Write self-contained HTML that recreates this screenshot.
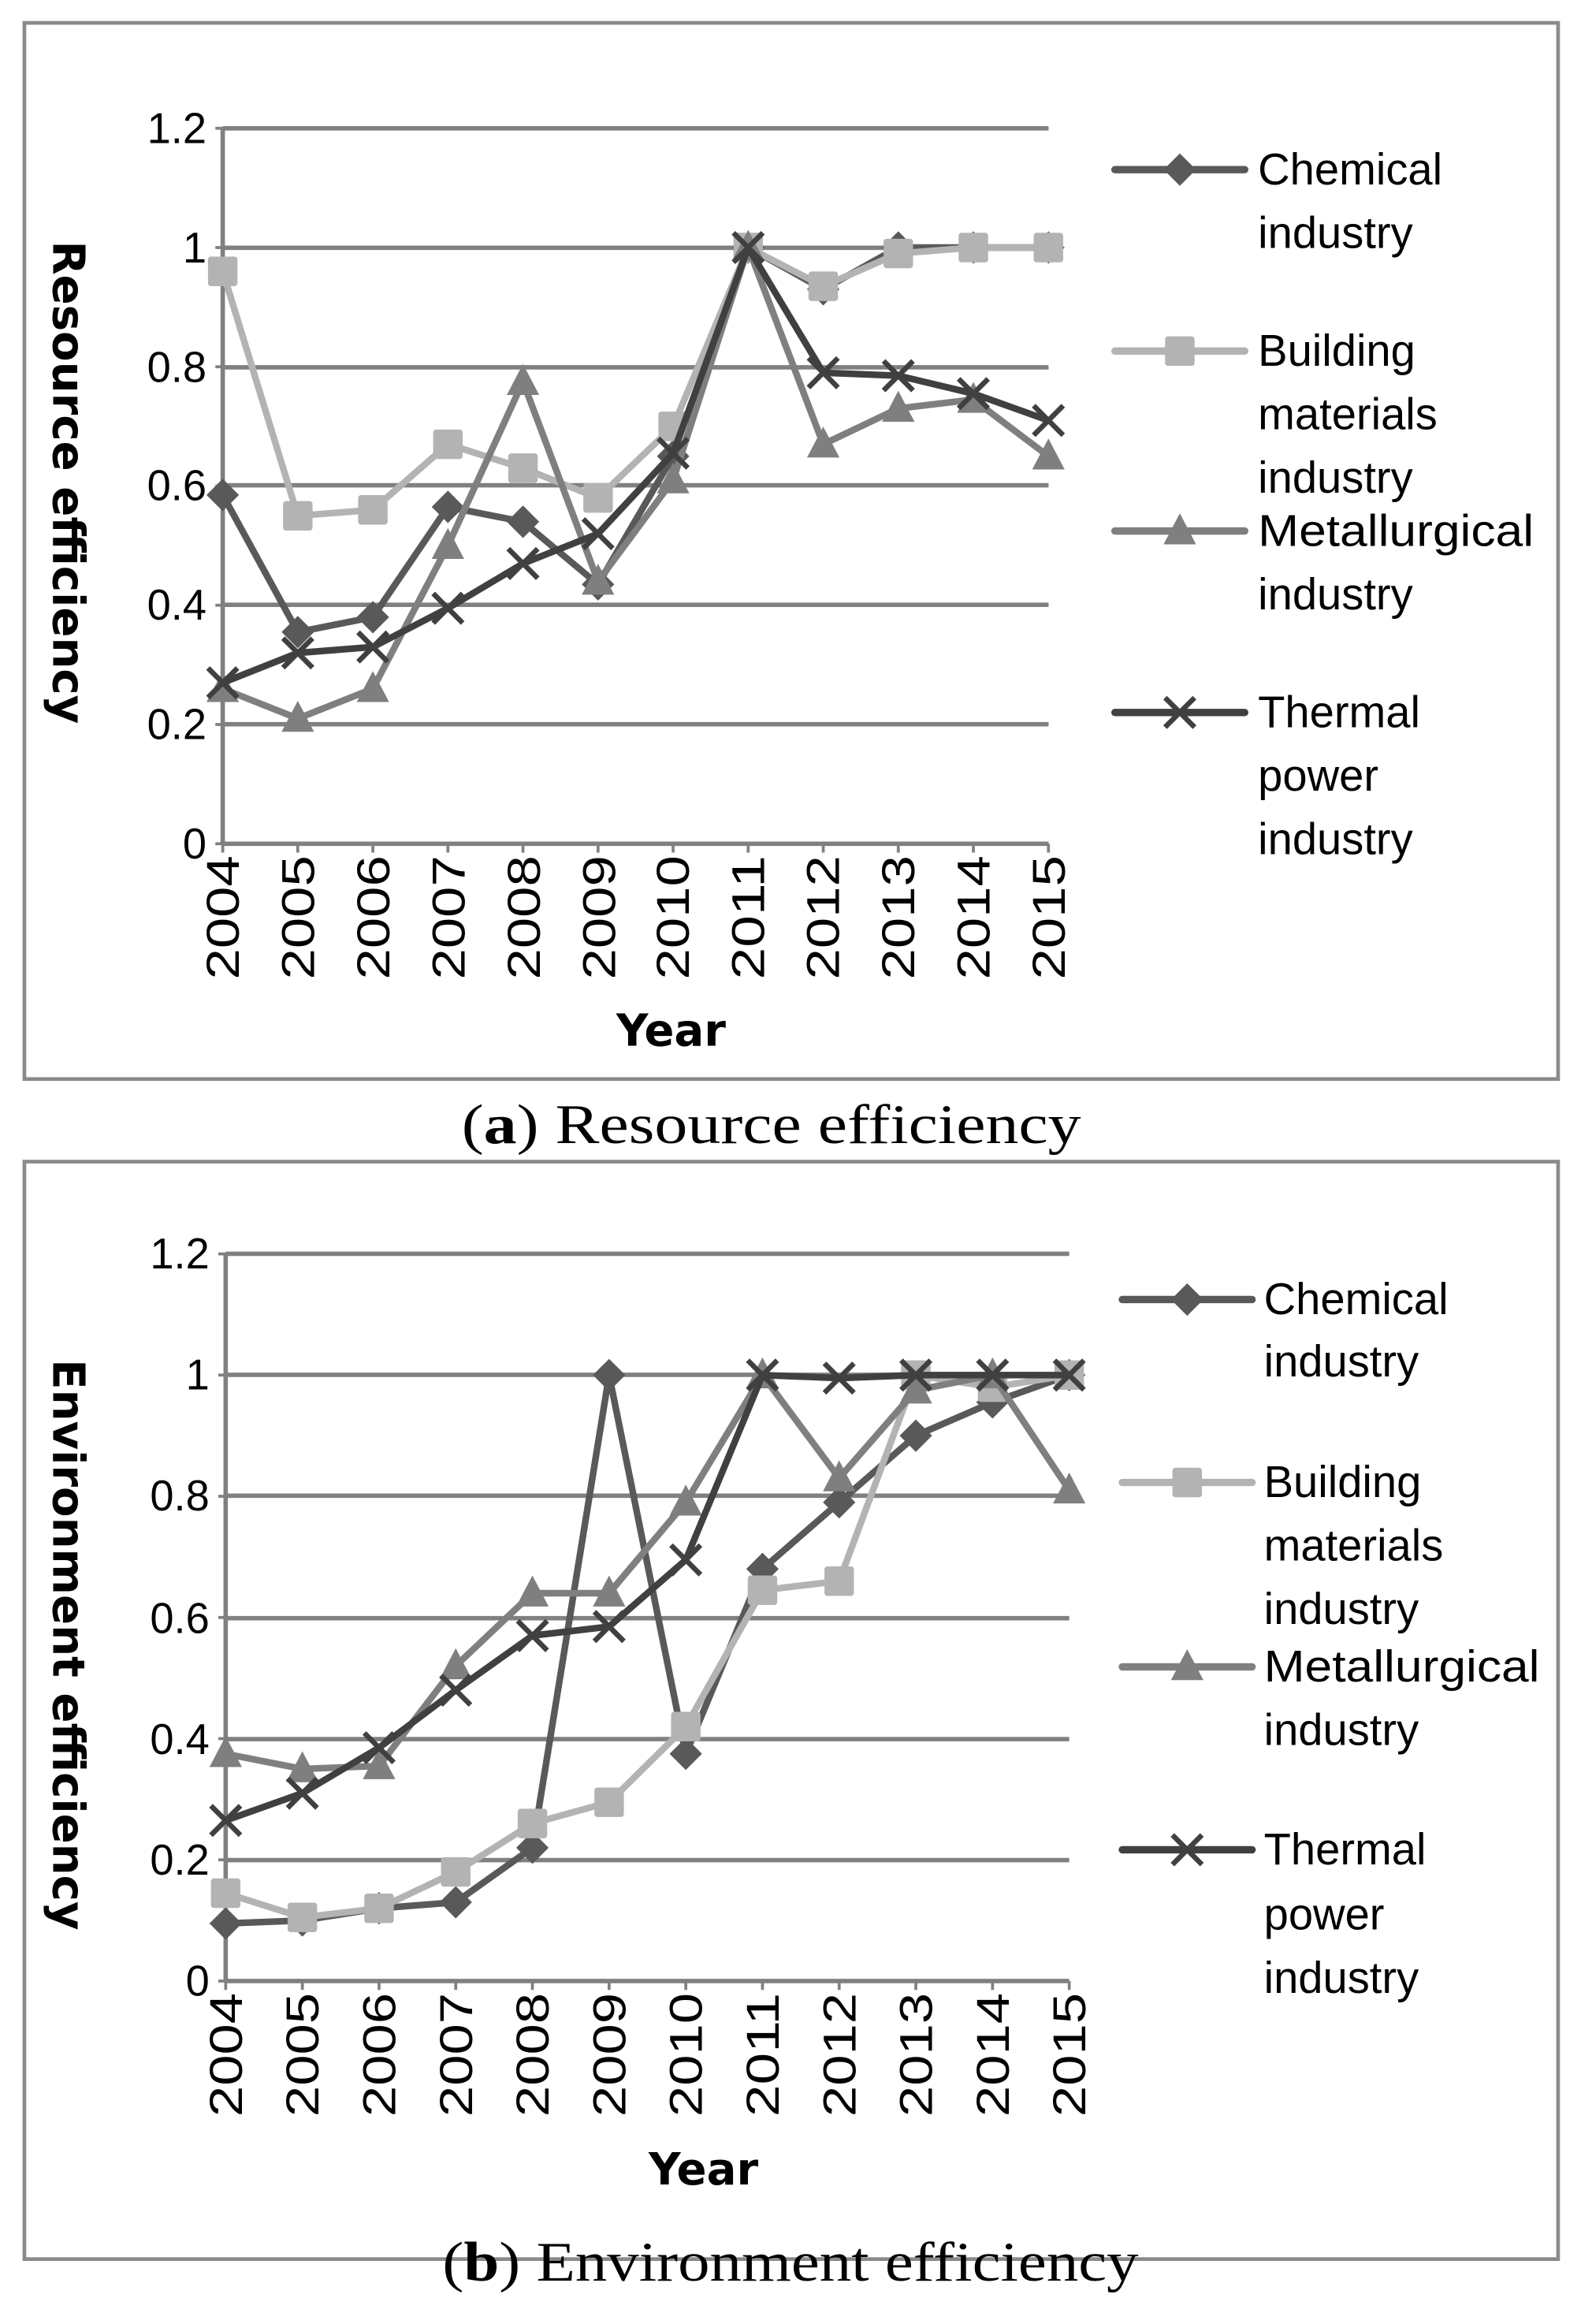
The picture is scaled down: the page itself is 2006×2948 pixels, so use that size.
<!DOCTYPE html>
<html><head><meta charset="utf-8"><style>
html,body{margin:0;padding:0;background:#fff;}
svg{display:block;}
.t{font-family:"Liberation Sans","DejaVu Sans",sans-serif;fill:#000;}
.b{font-family:"DejaVu Sans","Liberation Sans",sans-serif;fill:#000;}
.c{font-family:"Liberation Serif",serif;fill:#000;}
</style></head><body>
<svg id="s" xmlns="http://www.w3.org/2000/svg" width="2006" height="2948" viewBox="0 0 1072 1575.5">
<rect x="0" y="0" width="1072" height="1576" fill="#fff"/>
<!-- Chart A -->
<rect x="16.5" y="15.5" width="1040" height="716" fill="none" stroke="#8a8a8a" stroke-width="2.5"/>
<g stroke="#808080" stroke-width="3">
<line x1="151" y1="87" x2="711" y2="87"/><line x1="151" y1="168" x2="711" y2="168"/>
<line x1="151" y1="249" x2="711" y2="249"/><line x1="151" y1="329" x2="711" y2="329"/>
<line x1="151" y1="410" x2="711" y2="410"/><line x1="151" y1="491" x2="711" y2="491"/>
<line x1="151" y1="572" x2="711" y2="572"/><line x1="151" y1="87" x2="151" y2="572"/>
</g>
<g id="ticksA" stroke="#808080" stroke-width="2"></g>
<g class="t" font-size="29" text-anchor="end">
<text x="140" y="97">1.2</text><text x="140" y="178">1</text><text x="140" y="259">0.8</text>
<text x="140" y="339">0.6</text><text x="140" y="420">0.4</text><text x="140" y="501">0.2</text><text x="140" y="582">0</text>
</g>
<g class="t" font-size="31" text-anchor="end" lengthAdjust="spacingAndGlyphs">
<text transform="translate(162,580) rotate(-90)" textLength="84" lengthAdjust="spacingAndGlyphs">2004</text>
<text transform="translate(213,580) rotate(-90)" textLength="84" lengthAdjust="spacingAndGlyphs">2005</text>
<text transform="translate(264,580) rotate(-90)" textLength="84" lengthAdjust="spacingAndGlyphs">2006</text>
<text transform="translate(315,580) rotate(-90)" textLength="84" lengthAdjust="spacingAndGlyphs">2007</text>
<text transform="translate(366,580) rotate(-90)" textLength="84" lengthAdjust="spacingAndGlyphs">2008</text>
<text transform="translate(417,580) rotate(-90)" textLength="84" lengthAdjust="spacingAndGlyphs">2009</text>
<text transform="translate(467,580) rotate(-90)" textLength="84" lengthAdjust="spacingAndGlyphs">2010</text>
<text transform="translate(518,580) rotate(-90)" textLength="84" lengthAdjust="spacingAndGlyphs">2011</text>
<text transform="translate(569,580) rotate(-90)" textLength="84" lengthAdjust="spacingAndGlyphs">2012</text>
<text transform="translate(620,580) rotate(-90)" textLength="84" lengthAdjust="spacingAndGlyphs">2013</text>
<text transform="translate(671,580) rotate(-90)" textLength="84" lengthAdjust="spacingAndGlyphs">2014</text>
<text transform="translate(722,580) rotate(-90)" textLength="84" lengthAdjust="spacingAndGlyphs">2015</text>
</g>
<text class="b" x="455" y="709" font-size="30" font-weight="bold" text-anchor="middle">Year</text>
<text class="b" transform="translate(36,327) rotate(90)" font-size="30" font-weight="bold" text-anchor="middle">Resource efficiency</text>
<g class="t" font-size="30">
<text x="853" y="125">Chemical</text><text x="853" y="168">industry</text>
<text x="853" y="248">Building</text><text x="853" y="291">materials</text><text x="853" y="334">industry</text>
<text x="853" y="370" textLength="187" lengthAdjust="spacingAndGlyphs">Metallurgical</text><text x="853" y="413">industry</text>
<text x="853" y="493">Thermal</text><text x="853" y="536">power</text><text x="853" y="579">industry</text>
</g>
<g id="A"></g>
<text class="c" x="313" y="775" font-size="38" textLength="420" lengthAdjust="spacingAndGlyphs">(<tspan font-weight="bold">a</tspan>) Resource efficiency</text>

<!-- Chart B -->
<rect x="16.5" y="787.5" width="1040" height="744" fill="none" stroke="#8a8a8a" stroke-width="2.5"/>
<g stroke="#808080" stroke-width="3">
<line x1="153" y1="850" x2="725" y2="850"/><line x1="153" y1="932" x2="725" y2="932"/>
<line x1="153" y1="1014" x2="725" y2="1014"/><line x1="153" y1="1097" x2="725" y2="1097"/>
<line x1="153" y1="1179" x2="725" y2="1179"/><line x1="153" y1="1261" x2="725" y2="1261"/>
<line x1="153" y1="1343" x2="725" y2="1343"/><line x1="153" y1="850" x2="153" y2="1343"/>
</g>
<g id="ticksB" stroke="#808080" stroke-width="2"></g>
<g class="t" font-size="29" text-anchor="end">
<text x="142" y="860">1.2</text><text x="142" y="942">1</text><text x="142" y="1024">0.8</text>
<text x="142" y="1107">0.6</text><text x="142" y="1189">0.4</text><text x="142" y="1271">0.2</text><text x="142" y="1353">0</text>
</g>
<g class="t" font-size="31" text-anchor="end">
<text transform="translate(164,1351) rotate(-90)" textLength="84" lengthAdjust="spacingAndGlyphs">2004</text>
<text transform="translate(216,1351) rotate(-90)" textLength="84" lengthAdjust="spacingAndGlyphs">2005</text>
<text transform="translate(268,1351) rotate(-90)" textLength="84" lengthAdjust="spacingAndGlyphs">2006</text>
<text transform="translate(320,1351) rotate(-90)" textLength="84" lengthAdjust="spacingAndGlyphs">2007</text>
<text transform="translate(372,1351) rotate(-90)" textLength="84" lengthAdjust="spacingAndGlyphs">2008</text>
<text transform="translate(424,1351) rotate(-90)" textLength="84" lengthAdjust="spacingAndGlyphs">2009</text>
<text transform="translate(476,1351) rotate(-90)" textLength="84" lengthAdjust="spacingAndGlyphs">2010</text>
<text transform="translate(528,1351) rotate(-90)" textLength="84" lengthAdjust="spacingAndGlyphs">2011</text>
<text transform="translate(580,1351) rotate(-90)" textLength="84" lengthAdjust="spacingAndGlyphs">2012</text>
<text transform="translate(632,1351) rotate(-90)" textLength="84" lengthAdjust="spacingAndGlyphs">2013</text>
<text transform="translate(684,1351) rotate(-90)" textLength="84" lengthAdjust="spacingAndGlyphs">2014</text>
<text transform="translate(736,1351) rotate(-90)" textLength="84" lengthAdjust="spacingAndGlyphs">2015</text>
</g>
<text class="b" x="477" y="1481" font-size="30" font-weight="bold" text-anchor="middle">Year</text>
<text class="b" transform="translate(36,1115) rotate(90)" font-size="30" font-weight="bold" text-anchor="middle">Environment efficiency</text>
<g class="t" font-size="30">
<text x="857" y="891">Chemical</text><text x="857" y="933">industry</text>
<text x="857" y="1015">Building</text><text x="857" y="1058">materials</text><text x="857" y="1101">industry</text>
<text x="857" y="1140" textLength="187" lengthAdjust="spacingAndGlyphs">Metallurgical</text><text x="857" y="1183">industry</text>
<text x="857" y="1264">Thermal</text><text x="857" y="1308">power</text><text x="857" y="1351">industry</text>
</g>
<g id="B"></g>
<text class="c" x="300" y="1546" font-size="38" textLength="472" lengthAdjust="spacingAndGlyphs">(<tspan font-weight="bold">b</tspan>) Environment efficiency</text>
</svg>
<script>
var NS="http://www.w3.org/2000/svg";
function el(p,n,a){var e=document.createElementNS(NS,n);for(var k in a)e.setAttribute(k,a[k]);p.appendChild(e);return e;}
var cols=["#595959","#b3b3b3","#7f7f7f","#404040"];
function marker(g,t,x,y,c){
 if(t==0)el(g,"polygon",{points:(x)+","+(y-11)+" "+(x+11)+","+y+" "+x+","+(y+11)+" "+(x-11)+","+y,fill:c});
 else if(t==1)el(g,"rect",{x:x-10,y:y-10,width:20,height:20,rx:2,fill:c});
 else if(t==2)el(g,"polygon",{points:x+","+(y-12)+" "+(x+11)+","+(y+9)+" "+(x-11)+","+(y+9),fill:c});
 else {el(g,"path",{d:"M"+(x-10)+","+(y-10)+"L"+(x+10)+","+(y+10)+"M"+(x+10)+","+(y-10)+"L"+(x-10)+","+(y+10),stroke:c,"stroke-width":3.5,fill:"none"});}
}
function chart(id,tid,x0,dx,y0,ys,data,legX,legY){
 var g=document.getElementById(id),tg=document.getElementById(tid);
 for(var i=0;i<12;i++){var x=x0+i*dx;el(tg,"line",{x1:x,y1:y0,x2:x,y2:y0+6});}
 for(var j=0;j<7;j++){el(tg,"line",{x1:x0-5,y1:y0-j*0.2*ys,x2:x0,y2:y0-j*0.2*ys});}
 for(var s=0;s<4;s++){
  var pts=data[s].map(function(v,i){return (x0+i*dx)+","+(y0-v*ys);}).join(" ");
  el(g,"polyline",{points:pts,fill:"none",stroke:cols[s],"stroke-width":4.5,"stroke-linejoin":"round"});
  data[s].forEach(function(v,i){marker(g,s,x0+i*dx,y0-v*ys,cols[s]);});
  el(g,"line",{x1:legX,y1:legY[s],x2:legX+88,y2:legY[s],stroke:cols[s],"stroke-width":5,"stroke-linecap":"round"});
  marker(g,s,legX+44,legY[s],cols[s]);
 }
}
chart("A","ticksA",151,50.9,572,404.2,[
[.585,.355,.38,.565,.54,.435,.65,1.0,.93,1.0,1.0,1.0],
[.96,.55,.56,.67,.63,.58,.70,1.0,.935,.99,1.0,1.0],
[.26,.21,.26,.50,.775,.44,.61,1.0,.67,.73,.745,.65],
[.27,.32,.33,.395,.47,.52,.655,1.0,.79,.785,.755,.71]],756,[115,238,360,483]);
chart("B","ticksB",153,52,1343,410.8,[
[.095,.10,.12,.13,.22,1.0,.375,.68,.79,.90,.955,1.0],
[.145,.105,.12,.18,.26,.295,.42,.645,.66,1.0,.98,1.0],
[.375,.35,.355,.52,.64,.64,.79,1.0,.83,.975,1.0,.81],
[.265,.31,.385,.48,.57,.585,.695,1.0,.995,1.0,1.0,1.0]],761,[881,1005,1130,1254]);
</script>
</body></html>
